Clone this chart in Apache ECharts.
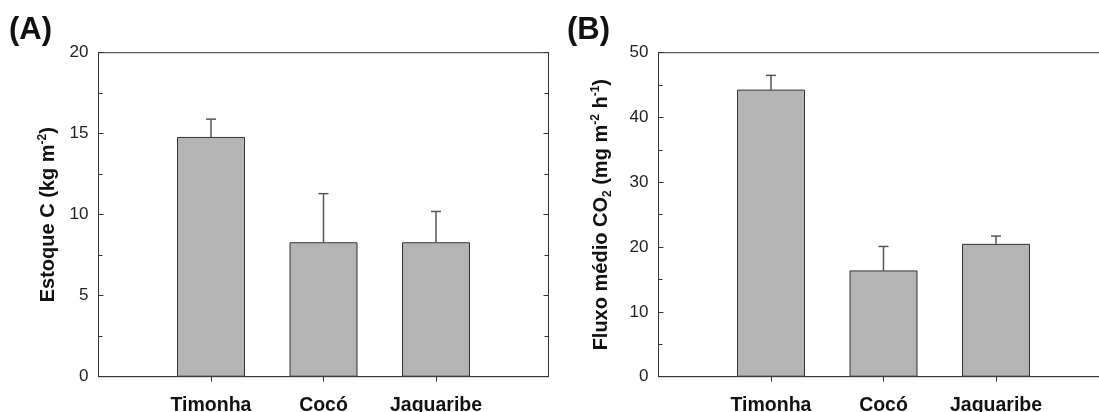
<!DOCTYPE html>
<html>
<head>
<meta charset="utf-8">
<script src="https://cdn.jsdelivr.net/npm/echarts@6/dist/echarts.min.js"></script>
<style>
html,body{margin:0;padding:0;background:#fff;}
#chart{width:1099px;height:412px;}
</style>
</head>
<body>
<div id="chart"></div>
<script>
const categories = ['Timonha', 'Cocó', 'Jaguaribe'];
const estoqueC = [14.8, 8.3, 8.3];
const estoqueCErr = [1.1, 3.0, 1.9];
const fluxoCO2 = [44.3, 16.4, 20.5];
const fluxoCO2Err = [2.2, 3.7, 1.2];
const positions = [1, 2, 3];

const FONT = "'Liberation Sans', Arial, sans-serif";
const AXIS_COLOR = '#333';

function xAxisFor(gridIndex) {
  return {
    type: 'value', gridIndex: gridIndex, min: 0, max: 4,
    axisLine: { show: true, lineStyle: { color: AXIS_COLOR, width: 1 } },
    axisTick: { show: true, inside: false, length: 5, customValues: positions, lineStyle: { color: AXIS_COLOR } },
    axisLabel: {
      show: true, customValues: positions, margin: 19,
      formatter: v => categories[Math.round(v) - 1] || '',
      fontFamily: FONT, fontSize: 19.5, fontWeight: 'bold', color: '#111'
    },
    splitLine: { show: false }
  };
}
function yAxisFor(gridIndex, max, interval, nameRich, name, nameGap) {
  return {
    type: 'value', gridIndex: gridIndex, min: 0, max: max, interval: interval,
    position: 'left',
    name: name, nameLocation: 'middle', nameGap: nameGap, nameRotate: 90,
    nameTextStyle: { fontFamily: FONT, fontSize: 20, fontWeight: 'bold', color: '#111', rich: nameRich },
    axisLine: { show: true, lineStyle: { color: AXIS_COLOR, width: 1 } },
    axisTick: { show: true, inside: true, length: 5, lineStyle: { color: AXIS_COLOR } },
    minorTick: { show: true, splitNumber: 2, length: 4, lineStyle: { color: AXIS_COLOR } },
    axisLabel: { fontFamily: FONT, fontSize: 17, color: '#222', margin: 10 },
    splitLine: { show: false }
  };
}
function rightAxisFor(gridIndex, max, interval) {
  return {
    type: 'value', gridIndex: gridIndex, min: 0, max: max, interval: interval,
    position: 'right',
    axisLine: { show: true, lineStyle: { color: AXIS_COLOR, width: 1 } },
    axisTick: { show: true, inside: true, length: 5, lineStyle: { color: AXIS_COLOR } },
    minorTick: { show: true, splitNumber: 2, length: 4, lineStyle: { color: AXIS_COLOR } },
    axisLabel: { show: false },
    splitLine: { show: false }
  };
}
const richBold = {
  sup: { fontFamily: FONT, fontSize: 12, fontWeight: 'bold', color: '#111', verticalAlign: 'top', lineHeight: 24 },
  sub: { fontFamily: FONT, fontSize: 12, fontWeight: 'bold', color: '#111', verticalAlign: 'bottom', lineHeight: 24 },
  n: { fontFamily: FONT, fontSize: 20, fontWeight: 'bold', color: '#111', lineHeight: 24 }
};

function errorSeries(xi, yi, vals, errs) {
  return {
    type: 'custom', xAxisIndex: xi, yAxisIndex: yi, z: 1,
    data: vals.map((v, i) => [positions[i], v, errs[i]]),
    renderItem: function (params, api) {
      const x = api.value(0), y = api.value(1), e = api.value(2);
      const p0 = api.coord([x, y]);
      const p1 = api.coord([x, y + e]);
      const style = { stroke: '#555', lineWidth: 1.5 };
      return {
        type: 'group',
        children: [
          { type: 'line', shape: { x1: p0[0], y1: p0[1], x2: p1[0], y2: p1[1] }, style: style },
          { type: 'line', shape: { x1: p1[0] - 5, y1: p1[1], x2: p1[0] + 5, y2: p1[1] }, style: style }
        ]
      };
    }
  };
}
function barSeries(xi, yi, vals) {
  return {
    type: 'bar', xAxisIndex: xi, yAxisIndex: yi, barWidth: 68, z: 2,
    data: vals.map((v, i) => [positions[i], v]),
    itemStyle: { color: '#b4b4b4', borderColor: '#333', borderWidth: 1 }
  };
}

const chart = echarts.init(document.getElementById('chart'), null, { renderer: 'canvas' });
chart.setOption({
  backgroundColor: '#ffffff',
  animation: false,
  title: [
    { text: '(A)', left: 9, top: 15, padding: 0, textStyle: { fontFamily: FONT, fontSize: 31, fontWeight: 'bold', color: '#111' } },
    { text: '(B)', left: 567, top: 15, padding: 0, textStyle: { fontFamily: FONT, fontSize: 31, fontWeight: 'bold', color: '#111' } }
  ],
  grid: [
    { left: 98.5, top: 52.7, width: 450, height: 324, show: true, borderColor: AXIS_COLOR, borderWidth: 1, backgroundColor: 'transparent', outerBoundsMode: 'none', containLabel: false },
    { left: 658.5, top: 52.7, width: 450, height: 324, show: true, borderColor: AXIS_COLOR, borderWidth: 1, backgroundColor: 'transparent', outerBoundsMode: 'none', containLabel: false }
  ],
  xAxis: [xAxisFor(0), xAxisFor(1)],
  yAxis: [
    yAxisFor(0, 20, 5, richBold, '{n|Estoque C (kg m}{sup|-2}{n|)}', 38),
    yAxisFor(1, 50, 10, richBold, '{n|Fluxo médio CO}{sub|2}{n| (mg m}{sup|-2}{n| h}{sup|-1}{n|)}', 45),
    rightAxisFor(0, 20, 5)
  ],
  series: [
    errorSeries(0, 0, estoqueC, estoqueCErr),
    barSeries(0, 0, estoqueC),
    errorSeries(1, 1, fluxoCO2, fluxoCO2Err),
    barSeries(1, 1, fluxoCO2)
  ]
});
</script>
</body>
</html>
